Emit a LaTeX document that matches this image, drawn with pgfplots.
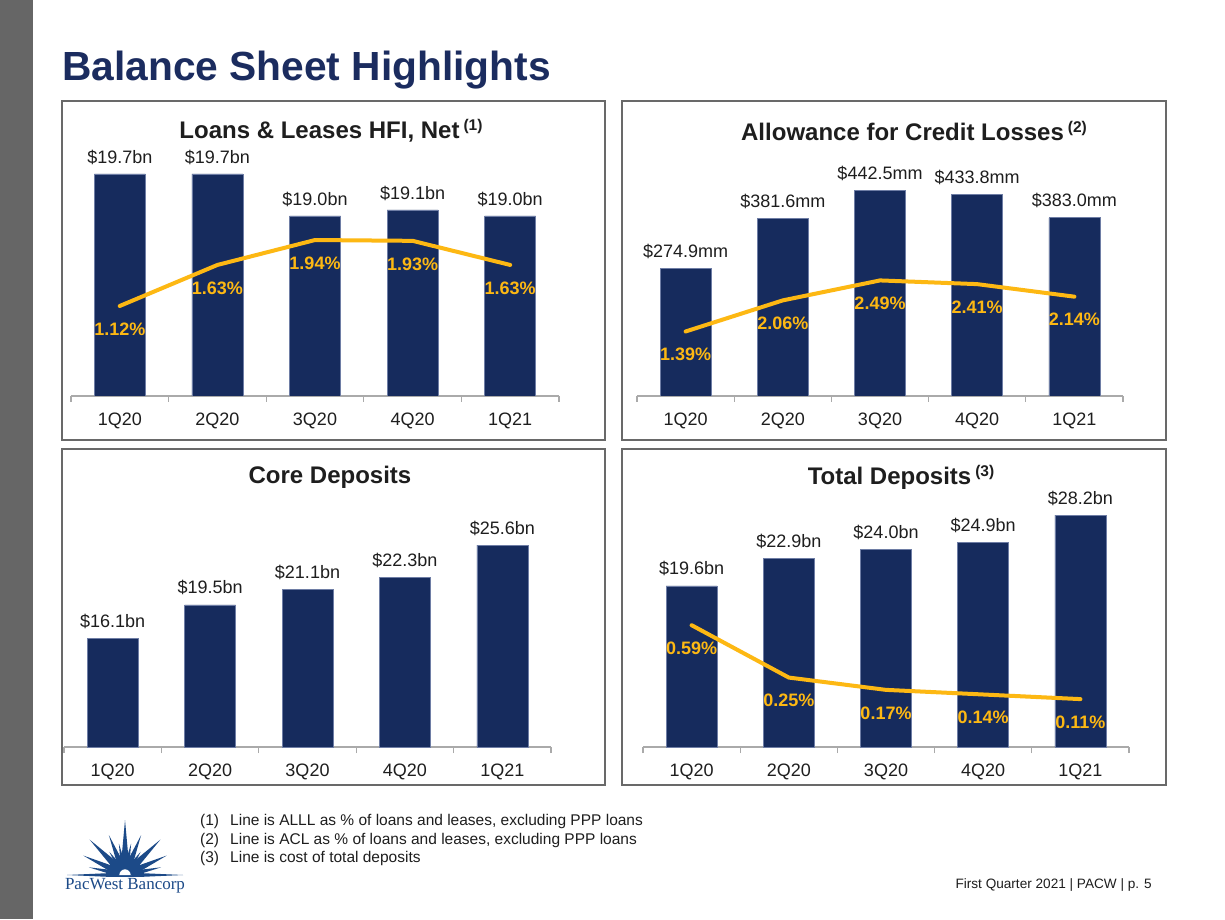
\documentclass[border=0pt]{standalone}
\usepackage{pgfplots}
\pgfplotsset{compat=1.18}
\usepackage{fontspec}
\setmainfont{Liberation Sans}
\newfontfamily\seriffont{Liberation Serif}
\definecolor{navy}{RGB}{22,43,93}
\definecolor{baredge}{RGB}{110,125,165}
\definecolor{titleblue}{RGB}{27,44,95}
\definecolor{gold}{RGB}{253,184,19}
\definecolor{framegray}{RGB}{105,105,105}
\definecolor{axisgray}{RGB}{170,170,170}
\definecolor{sidegray}{RGB}{102,102,102}
\definecolor{logoblue}{RGB}{28,74,136}
\definecolor{txt}{RGB}{30,30,30}
\newcommand{\fs}[1]{\fontsize{#1}{#1}\selectfont}

\pgfplotsset{
  panelbase/.style={scale only axis, anchor=south west, xmin=-0.5, xmax=4.5},
  barpanel/.style={
    panelbase,
    axis x line*=bottom, axis y line=none,
    x axis line style={-, draw=axisgray, line width=1.2pt},
    xtick={0,1,2,3,4},
    xticklabels={1Q20,2Q20,3Q20,4Q20,1Q21},
    major tick length=0pt,
    extra x ticks={-0.5,0.5,1.5,2.5,3.5,4.5},
    extra x tick labels={},
    extra x tick style={tick align=outside, major tick length=6pt,
      tick style={draw=axisgray, line width=1.2pt}},
    xticklabel style={font=\fs{18}, text=txt, yshift=-13pt},
  },
  linepanel/.style={panelbase, hide axis},
  bars/.style={ybar, bar width=51pt, fill=navy, draw=baredge, line width=0.6pt,
    nodes near coords, point meta=explicit symbolic,
    every node near coord/.append style={font=\fs{18}, text=txt, anchor=center, yshift=17pt}},
  pline/.style={gold, line width=4pt, line join=round, line cap=round, mark=none,
    nodes near coords, point meta=explicit symbolic,
    every node near coord/.append style={font=\bfseries\fs{18}, text=gold, anchor=center, yshift=-23pt}},
}

\begin{document}
\begin{tikzpicture}
\begin{scope}[x=1pt,y=1pt]
% page
\fill[white] (0,0) rectangle (1225,919);
\fill[sidegray] (0,0) rectangle (33,919);
% main title
\node[anchor=base west, inner sep=0pt, text=titleblue, font=\bfseries\fs{40.7}] at (62,838) {Balance Sheet Highlights};
% frames
\draw[framegray, line width=1.4pt] (62,479) rectangle (605,818);
\draw[framegray, line width=1.4pt] (622,479) rectangle (1166,818);
\draw[framegray, line width=1.4pt] (62,134) rectangle (605,470);
\draw[framegray, line width=1.4pt] (622,134) rectangle (1166,470);
% panel titles
\node[text=txt, font=\bfseries\fs{24}] at (331,788) {Loans \& Leases HFI, Net\,\raisebox{8pt}{\fs{15.5}(1)}};
\node[text=txt, font=\bfseries\fs{24}] at (914,788) {Allowance for Credit Losses\,\raisebox{8pt}{\fs{15.5}(2)}};
\node[text=txt, font=\bfseries\fs{24}] at (330,442) {Core Deposits};
\node[text=txt, font=\bfseries\fs{24}] at (901,442) {Total Deposits\,\raisebox{8pt}{\fs{15.5}(3)}};
% footnotes
\begin{scope}[every node/.style={anchor=base west, inner sep=0pt, text=txt, font=\fs{15.5}}]
\node at (200,94) {(1)}; \node at (230,94) {Line is ALLL as \% of loans and leases, excluding PPP loans};
\node at (200,75) {(2)}; \node at (230,75) {Line is ACL as \% of loans and leases, excluding PPP loans};
\node at (200,57) {(3)}; \node at (230,57) {Line is cost of total deposits};
\end{scope}
% footer
\node[anchor=base east, inner sep=0pt, text=txt, font=\fs{13.6}] at (1152,31) {First Quarter 2021 | PACW | p. 5};
% logo
\begin{scope}[shift={(125,44)}]
\begin{scope}
\clip (-70,-1.2) rectangle (70,60);
\foreach \a/\r/\w in {90/55/5, 79/32/3.5, 101/32/3.5, 68/43/4.5, 112/43/4.5, 56/28/3.5, 124/28/3.5, 45/50/5, 135/50/5, 25/46/4.5, 155/46/4.5, 12/37/3.5, 168/37/3.5, 0/58/2.6, 180/58/2.6}{
  \fill[logoblue] ({\a+90}:\w) -- (\a:\r) -- ({\a-90}:\w) -- cycle;
}
\end{scope}
\fill[white] (-6.5,0) arc (180:0:6.5) -- cycle;
\draw[logoblue, line width=1.5pt] (-6.5,0) arc (180:0:6.5);
\end{scope}
\node[text=logoblue, font=\seriffont\fs{17}, inner sep=0pt] at (125,33) {PacWest Bancorp};
\end{scope}

% ---------- Panel 1 ----------
\begin{axis}[barpanel, at={(71pt,523pt)}, width=488pt, height=246pt, ymin=16, ymax=20.1]
\addplot[bars] coordinates {(0,19.7)[\$19.7bn] (1,19.7)[\$19.7bn] (2,19.0)[\$19.0bn] (3,19.1)[\$19.1bn] (4,19.0)[\$19.0bn]};
\end{axis}
\begin{axis}[linepanel, at={(71pt,523pt)}, width=488pt, height=246pt, ymin=0, ymax=3.06]
\addplot[pline] coordinates {(0,1.12)[1.12\%] (1,1.63)[1.63\%] (2,1.94)[1.94\%] (3,1.93)[1.93\%] (4,1.63)[1.63\%]};
\end{axis}

% ---------- Panel 2 ----------
\begin{axis}[barpanel, at={(637pt,523pt)}, width=486pt, height=246pt, ymin=0, ymax=528.6]
\addplot[bars] coordinates {(0,274.9)[\$274.9mm] (1,381.6)[\$381.6mm] (2,442.5)[\$442.5mm] (3,433.8)[\$433.8mm] (4,383.0)[\$383.0mm]};
\end{axis}
\begin{axis}[linepanel, at={(637pt,523pt)}, width=486pt, height=246pt, ymin=0, ymax=5.30]
\addplot[pline] coordinates {(0,1.39)[1.39\%] (1,2.06)[2.06\%] (2,2.49)[2.49\%] (3,2.41)[2.41\%] (4,2.14)[2.14\%]};
\end{axis}

% ---------- Panel 3 ----------
\begin{axis}[barpanel, at={(64pt,172pt)}, width=487pt, height=247pt, ymin=5, ymax=30.2]
\addplot[bars] coordinates {(0,16.1)[\$16.1bn] (1,19.5)[\$19.5bn] (2,21.1)[\$21.1bn] (3,22.3)[\$22.3bn] (4,25.6)[\$25.6bn]};
\end{axis}

% ---------- Panel 4 ----------
\begin{axis}[barpanel, at={(643pt,172pt)}, width=486pt, height=247pt, ymin=0, ymax=30.05]
\addplot[bars] coordinates {(0,19.6)[\$19.6bn] (1,22.9)[\$22.9bn] (2,24.0)[\$24.0bn] (3,24.9)[\$24.9bn] (4,28.2)[\$28.2bn]};
\end{axis}
\begin{axis}[linepanel, at={(643pt,172pt)}, width=486pt, height=247pt, ymin=-0.201, ymax=1.403]
\addplot[pline] coordinates {(0,0.59)[0.59\%] (1,0.25)[0.25\%] (2,0.17)[0.17\%] (3,0.14)[0.14\%] (4,0.11)[0.11\%]};
\end{axis}
\end{tikzpicture}
\end{document}
